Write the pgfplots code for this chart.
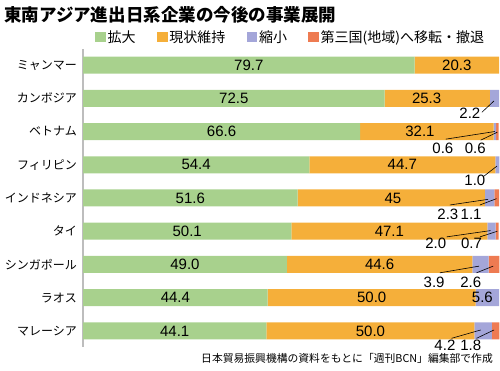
\documentclass[border=0pt]{standalone}
\usepackage{fontspec}
\usepackage{pgfplots}
\usepackage{pgfplotstable}
\pgfplotsset{compat=1.18}
\newfontfamily\cjk{Noto Sans CJK JP}
\newfontfamily\num{Liberation Sans}
\definecolor{cGreen}{HTML}{A8D18D}
\definecolor{cOrange}{HTML}{F5AF3A}
\definecolor{cLav}{HTML}{A4A6D9}
\definecolor{cCoral}{HTML}{EE7B52}
\definecolor{axgray}{HTML}{BDBDBD}
\pgfplotstableread{
y g o s r
8 79.7 20.3 0 0
7 72.5 25.3 2.2 0
6 66.6 32.1 0.6 0.6
5 54.4 44.7 1.0 0
4 51.6 45 2.3 1.1
3 50.1 47.1 2.0 0.7
2 49.0 44.6 3.9 2.6
1 44.4 50.0 5.6 0
0 44.1 50.0 4.2 1.8
}\data
\tikzset{lab/.style={font=\num\fontsize{15}{15}\selectfont, inner sep=0pt},
  ld/.style={draw=black, line width=0.6pt}}
\newcommand\annot{%
% in-bar labels
\node[lab] at (axis cs:39.85,8) {79.7};
\node[lab] at (axis cs:89.85,8) {20.3};
\node[lab] at (axis cs:36.25,7) {72.5};
\node[lab] at (axis cs:82.6,7) {25.3};
\node[lab] at (axis cs:33.3,6) {66.6};
\node[lab] at (axis cs:81.0,6) {32.1};
\node[lab] at (axis cs:27.2,5) {54.4};
\node[lab] at (axis cs:76.75,5) {44.7};
\node[lab] at (axis cs:25.8,4) {51.6};
\node[lab] at (axis cs:74.5,4) {45};
\node[lab] at (axis cs:25.05,3) {50.1};
\node[lab] at (axis cs:73.65,3) {47.1};
\node[lab] at (axis cs:24.5,2) {49.0};
\node[lab] at (axis cs:71.3,2) {44.6};
\node[lab] at (axis cs:22.2,1) {44.4};
\node[lab] at (axis cs:69.4,1) {50.0};
\node[lab] at (axis cs:96.0,1) {5.6};
\node[lab] at (axis cs:22.05,0) {44.1};
\node[lab] at (axis cs:69.1,0) {50.0};
% small labels with leader lines
\node[lab] at (axis cs:93.0,6.55) {2.2};
\draw[ld] (axis cs:95.9,6.58) -- (axis cs:98.8,6.92);
\node[lab] at (axis cs:86.5,5.49) {0.6};
\node[lab] at (axis cs:94.3,5.49) {0.6};
\draw[ld] (axis cs:87.2,5.77) -- (axis cs:99.0,6.0);
\draw[ld] (axis cs:95.6,5.74) -- (axis cs:99.6,5.98);
\node[lab] at (axis cs:94.2,4.54) {1.0};
\draw[ld] (axis cs:96.2,4.64) -- (axis cs:99.5,4.96);
\node[lab] at (axis cs:87.7,3.52) {2.3};
\node[lab] at (axis cs:93.3,3.52) {1.1};
\draw[ld] (axis cs:88.2,3.79) -- (axis cs:97.4,3.96);
\draw[ld] (axis cs:95.4,3.79) -- (axis cs:99.4,3.98);
\node[lab] at (axis cs:84.8,2.64) {2.0};
\node[lab] at (axis cs:93.4,2.64) {0.7};
\draw[ld] (axis cs:87.4,2.83) -- (axis cs:98.0,3.02);
\draw[ld] (axis cs:95.4,2.83) -- (axis cs:99.6,3.0);
\node[lab] at (axis cs:84.4,1.47) {3.9};
\node[lab] at (axis cs:93.2,1.47) {2.6};
\draw[ld] (axis cs:85.8,1.75) -- (axis cs:95.2,1.95);
\draw[ld] (axis cs:94.6,1.75) -- (axis cs:98.6,1.95);
\node[lab] at (axis cs:87.0,-0.42) {4.2};
\node[lab] at (axis cs:93.2,-0.42) {1.8};
\draw[ld] (axis cs:88.6,-0.22) -- (axis cs:95.6,0.03);
\draw[ld] (axis cs:94.6,-0.22) -- (axis cs:98.8,0.03);
}
\begin{document}
\begin{tikzpicture}
\path[use as bounding box] (0pt,0pt) rectangle (500pt,370pt);
\node[anchor=west, font=\cjk\bfseries\fontsize{17.5}{18}\selectfont, inner sep=0pt] at (4pt,355.5pt) {東南アジア進出日系企業の今後の事業展開};
\node[anchor=east, font=\cjk\fontsize{10.8}{11}\selectfont, inner sep=0pt] at (493pt,12pt) {日本貿易振興機構の資料をもとに「週刊BCN」編集部で作成};
\begin{axis}[
  at={(83pt,23.4pt)}, anchor=south west, scale only axis,
  width=416pt, height=297.2pt,
  xbar stacked, bar width=17pt,
  xmin=0, xmax=100, ymin=-0.47, ymax=8.47,
  axis x line=none, axis y line*=left,
  y axis line style={draw=axgray, line width=1.5pt, -},
  ytick={0,...,8},
  yticklabels={マレーシア,ラオス,シンガポール,タイ,インドネシア,フィリピン,ベトナム,カンボジア,ミャンマー},
  major tick length=0pt,
  yticklabel style={font=\cjk\fontsize{12}{12}\selectfont, inner sep=0pt, xshift=-6pt},
  clip=false,
  legend columns=4,
  legend style={at={(0,1)}, anchor=west, xshift=12pt, yshift=12.4pt, draw=none, fill=none,
    inner sep=0pt, font=\cjk\fontsize{14}{14}\selectfont,
    nodes={inner sep=1.8pt}, cells={anchor=west},
    /tikz/every even column/.append style={column sep=19.5pt}},
  legend image code/.code={\fill[#1, draw=none] (0pt,-5.3pt) rectangle (10.6pt,5.3pt);},
  after end axis/.code={\annot},
]
\addplot[fill=cGreen, draw=none] table[x=g,y=y]{\data};
\addplot[fill=cOrange, draw=none] table[x=o,y=y]{\data};
\addplot[fill=cLav, draw=none] table[x=s,y=y]{\data};
\addplot[fill=cCoral, draw=none] table[x=r,y=y]{\data};
\legend{拡大,現状維持,縮小,第三国(地域)へ移転・撤退}
\end{axis}
\end{tikzpicture}
\end{document}
